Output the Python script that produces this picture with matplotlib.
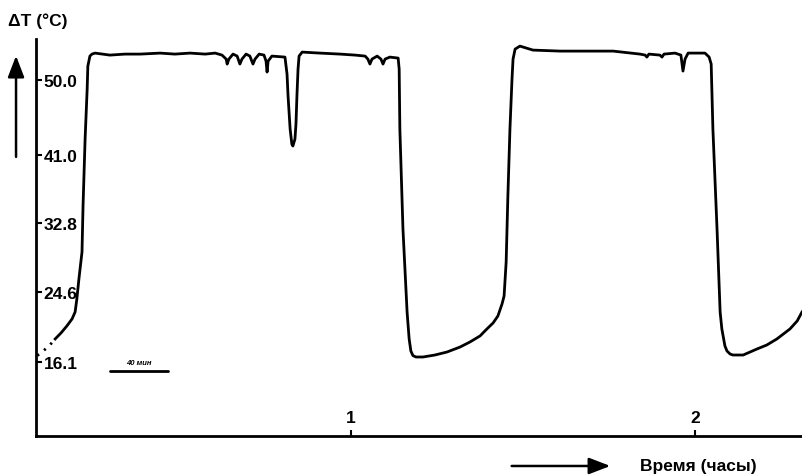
import matplotlib
matplotlib.use("Agg")
import matplotlib.pyplot as plt
from matplotlib.patches import FancyArrowPatch

plt.rcParams['font.family'] = ['Liberation Sans', 'DejaVu Sans']

# temperature trace, time in hours, dT in deg C
hours = [0.140, 0.157, 0.174, 0.189, 0.198, 0.203, 0.209, 0.218, 0.221, 0.227,
         0.233, 0.235, 0.241, 0.247, 0.256, 0.299, 0.343, 0.387, 0.445, 0.488,
         0.532, 0.576, 0.605, 0.625, 0.637, 0.640, 0.645, 0.657, 0.669, 0.677,
         0.683, 0.695, 0.706, 0.715, 0.721, 0.733, 0.747, 0.753, 0.756, 0.759,
         0.770, 0.808, 0.814, 0.817, 0.823, 0.828, 0.831, 0.837, 0.840, 0.843,
         0.846, 0.849, 0.858, 0.910, 0.968, 1.012, 1.041, 1.049, 1.055, 1.061,
         1.076, 1.087, 1.093, 1.099, 1.113, 1.137, 1.140, 1.142, 1.151, 1.163,
         1.169, 1.174, 1.180, 1.189, 1.209, 1.244, 1.279, 1.317, 1.346, 1.375,
         1.395, 1.413, 1.427, 1.439, 1.445,
         1.451, 1.456, 1.462, 1.468, 1.471, 1.477, 1.491, 1.529, 1.608, 1.666,
         1.762, 1.840, 1.855, 1.860, 1.866, 1.898, 1.904, 1.910, 1.942, 1.959,
         1.965, 1.971, 1.980, 2.029, 2.041, 2.047, 2.052, 2.064, 2.073, 2.078,
         2.087, 2.093, 2.102, 2.110, 2.140, 2.180, 2.209, 2.238, 2.276, 2.297,
         2.311]
temps = [18.90, 19.62, 20.46, 21.30, 22.14, 23.70, 26.10, 29.35, 34.87, 42.92,
         48.93, 51.69, 52.89, 53.13, 53.25, 53.01, 53.13, 53.13, 53.25, 53.13,
         53.25, 53.13, 53.25, 53.01, 52.53, 51.93, 52.53, 53.13, 52.89, 51.93,
         52.53, 53.13, 52.89, 51.93, 52.53, 53.13, 53.01, 52.29, 50.97, 52.29,
         52.89, 52.77, 50.73, 48.09, 44.12, 42.32, 42.08, 42.92, 44.72, 48.33,
         51.33, 52.89, 53.37, 53.25, 53.13, 53.01, 52.89, 52.53, 51.93, 52.53,
         52.89, 52.53, 51.93, 52.53, 52.77, 52.65, 51.33, 44.12, 32.11, 22.14,
         18.90, 17.45, 16.90, 16.73, 16.73, 16.97, 17.33, 17.93, 18.54, 19.26,
         20.10, 20.82, 21.66, 23.10, 24.06,
         28.15, 36.07, 44.12, 50.13, 52.53, 53.73, 54.09, 53.61, 53.49, 53.49,
         53.49, 53.13, 53.01, 52.77, 53.13, 53.01, 52.77, 53.13, 53.25, 53.01,
         51.09, 52.53, 53.25, 53.25, 52.77, 51.93, 44.12, 32.11, 22.14, 20.10,
         18.05, 17.45, 17.09, 16.97, 16.97, 17.69, 18.18, 18.90, 20.10, 21.06,
         22.14]

# dotted start of the trace
dot_hours = [0.088, 0.105, 0.122, 0.140]
dot_temps = [16.90, 17.45, 18.05, 18.90]

ytick_vals = [16.1, 24.6, 32.8, 41.0, 50.0]
ytick_labels = ['16.1', '24.6', '32.8', '41.0', '50.0']
xtick_vals = [1, 2]
xtick_labels = ['1', '2']

# scale bar (40 min)
bar_hours = [0.299, 0.468]
bar_temp = 15.05

fig = plt.figure(figsize=(8.02, 4.77), dpi=100)
ax = fig.add_axes([0.0449, 0.0839, 0.9551, 0.832])

ax.plot(hours, temps, color='black', lw=2.0, solid_joinstyle='round')
ax.plot(dot_hours, dot_temps, color='black', lw=2.0, linestyle=(0, (0.8, 2.3)))
ax.plot(bar_hours, [bar_temp, bar_temp], color='black', lw=2.0, solid_capstyle='round')
ax.text(sum(bar_hours) / 2, bar_temp + 0.6, '40 мин', fontsize=5.5, style='italic',
        fontweight='bold', ha='center', va='bottom')

ax.set_xlim(0.0843, 2.311)
ax.set_ylim(7.24, 54.93)

for s in ['top', 'right']:
    ax.spines[s].set_visible(False)
for s in ['left', 'bottom']:
    ax.spines[s].set_linewidth(2)

ax.set_yticks(ytick_vals)
ax.set_yticklabels(ytick_labels, fontsize=12.5, fontweight='bold', ha='left')
ax.tick_params(axis='y', direction='in', length=4, width=1.5, pad=-5.5)

ax.set_xticks(xtick_vals)
ax.set_xticklabels(xtick_labels, fontsize=12.5, fontweight='bold', va='baseline')
ax.tick_params(axis='x', direction='in', length=4, width=1.5, pad=-10)

fig.text(0.010, 0.956, 'ΔT (°C)', fontsize=12.5, fontweight='bold', ha='left', va='center')
fig.text(0.798, 0.021, 'Время (часы)', fontsize=12.5, fontweight='bold', ha='left', va='center')

up = FancyArrowPatch((0.020, 0.669), (0.020, 0.881), transform=fig.transFigure,
                     arrowstyle='-|>,head_length=0.65,head_width=0.25',
                     mutation_scale=20, lw=1.8, color='black', shrinkA=0, shrinkB=0)
right = FancyArrowPatch((0.638, 0.021), (0.761, 0.021), transform=fig.transFigure,
                        arrowstyle='-|>,head_length=0.65,head_width=0.25',
                        mutation_scale=20, lw=1.8, color='black', shrinkA=0, shrinkB=0)
fig.patches.extend([up, right])

fig.savefig('out.png', dpi=100)
